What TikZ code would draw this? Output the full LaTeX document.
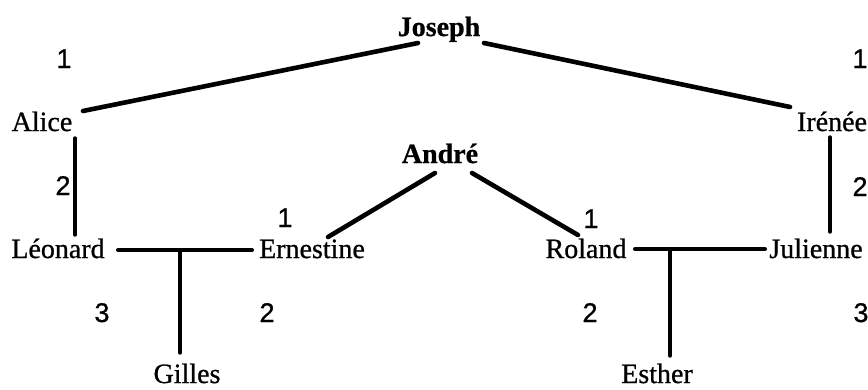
\documentclass[tikz,border=0pt]{standalone}
\usepackage{fontspec}
\setmainfont{Liberation Serif}[RawFeature={embolden=0.8}]
\newfontfamily\digitfont{Liberation Sans}[RawFeature={embolden=0.8}]
\usetikzlibrary{calc}
\tikzset{
  person/.style={inner sep=0pt, outer sep=0pt, anchor=base, font=\fontsize{28}{30}\selectfont},
  boldperson/.style={person, font=\fontsize{28}{30}\selectfont\bfseries},
  num/.style={inner sep=0pt, anchor=base, font=\fontsize{27}{30}\selectfont\digitfont},
  link/.style={line width=4.6pt, line cap=round},
  vlink/.style={line width=3.4pt, line cap=round},
  hlink/.style={line width=4pt, line cap=round}
}
\begin{document}
\begin{tikzpicture}[x=1pt, y=-1pt]
\path[use as bounding box] (0,0) rectangle (868,389);
% people
\node[boldperson] (joseph) at (439,36) {Joseph};
\node[person] (alice) at (42,131) {Alice};
\node[person] (irenee) at (832,131) {Irénée};
\node[boldperson] (andre) at (440,163) {André};
\node[person] (leonard) at (58,258) {Léonard};
\node[person] (ernestine) at (312,258) {Ernestine};
\node[person] (roland) at (586,258) {Roland};
\node[person] (julienne) at (816,258) {Julienne};
\node[person] (gilles) at (187,383) {Gilles};
\node[person] (esther) at (657,383) {Esther};
% numbers
\node[num] (n1) at (64,68) {1};
\node[num] (n2) at (860,68) {1};
\node[num] (n3) at (63,195) {2};
\node[num] (n4) at (860,196) {2};
\node[num] (n5) at (285,227) {1};
\node[num] (n6) at (591,228) {1};
\node[num] (n7) at (102,322) {3};
\node[num] (n8) at (267,322) {2};
\node[num] (n9) at (590,322) {2};
\node[num] (n10) at (861,322) {3};
% junction points
\coordinate (gj) at (180,250);
\coordinate (ej) at (670,249);
% connectors
\draw[link] ($(joseph.base)+(-21,7)$) -- ($(alice.base)+(41,-20)$);
\draw[link] ($(joseph.base)+(45,7)$) -- ($(irenee.base)+(-42,-24)$);
\draw[vlink] ($(alice.base)+(33,7)$) -- ($(leonard.base)+(17,-23)$);
\draw[vlink] ($(irenee.base)+(-2,6)$) -- ($(julienne.base)+(14,-26)$);
\draw[link] ($(andre.base)+(-5,10)$) -- ($(ernestine.base)+(16,-21)$);
\draw[link] ($(andre.base)+(32,10)$) -- ($(roland.base)+(-8,-23)$);
\draw[hlink] ($(leonard.base)+(60,-8)$) -- ($(ernestine.base)+(-60,-8)$);
\draw[hlink] ($(roland.base)+(49,-9)$) -- ($(julienne.base)+(-51,-9)$);
\draw[vlink] (gj) -- ($(gilles.base)+(-7,-30)$);
\draw[vlink] (ej) -- ($(esther.base)+(13,-27)$);
\end{tikzpicture}
\end{document}
